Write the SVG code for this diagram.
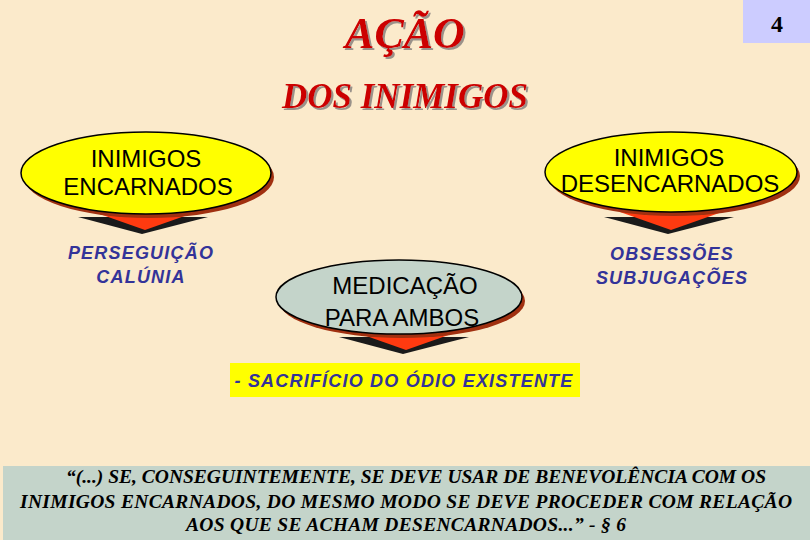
<svg xmlns="http://www.w3.org/2000/svg" width="810" height="540" viewBox="0 0 810 540">
  <style>
    .title { font-family: "Liberation Serif", "Times New Roman", serif; font-weight: bold; font-style: italic; fill: #CC0000; text-anchor: middle; filter: url(#tshadow); }
    .node { font-family: "Liberation Sans", Arial, sans-serif; font-size: 24px; fill: #000000; text-anchor: middle; }
    .blue { font-family: "Liberation Sans", Arial, sans-serif; font-weight: bold; font-style: italic; font-size: 18px; letter-spacing: 1.2px; fill: #333399; text-anchor: middle; }
    .quote { font-family: "Liberation Serif", "Times New Roman", serif; font-weight: bold; font-style: italic; font-size: 19.5px; fill: #000000; }
    .ell { stroke: #000000; stroke-width: 1.5; }
    .shadow { fill: #A03010; }
  </style>
  <defs>
    <filter id="tshadow" x="-10%" y="-20%" width="120%" height="150%">
      <feDropShadow dx="2" dy="2" stdDeviation="0.4" flood-color="#9A928A" flood-opacity="1"/>
    </filter>
    <g id="arrow">
      <polygon points="-64,3 66,3 0,20" fill="#1A1A1A"/>
      <polygon points="-48,-2 54,-2 3,16" fill="#FF3A10"/>
    </g>
  </defs>
  <rect x="0" y="0" width="810" height="540" fill="#FBEACB"/>

  <g id="page-number">
    <rect x="743" y="0" width="67" height="43" fill="#CCCCFF"/>
    <text x="777" y="32" font-family="Liberation Serif, serif" font-weight="bold" font-size="24" text-anchor="middle" fill="#000">4</text>
  </g>

  <g id="title">
    <text class="title" x="405" y="48" font-size="44">AÇÃO</text>
    <text class="title" x="405" y="108" font-size="35">DOS INIMIGOS</text>
  </g>

  <g id="connectors">
    <use href="#arrow" x="142" y="214"/>
    <use href="#arrow" x="668" y="214"/>
    <use href="#arrow" x="403" y="334"/>
  </g>

  <g id="node-encarnados">
    <ellipse class="shadow" cx="149" cy="177" rx="125" ry="41"/>
    <ellipse class="ell" cx="146" cy="173" rx="125" ry="41" fill="#FFFF00"/>
    <text class="node" x="146" y="167">INIMIGOS</text>
    <text class="node" x="148" y="195">ENCARNADOS</text>
  </g>

  <g id="node-desencarnados">
    <ellipse class="shadow" cx="674" cy="176" rx="126" ry="40"/>
    <ellipse class="ell" cx="671" cy="172" rx="126" ry="40" fill="#FFFF00"/>
    <text class="node" x="669" y="166">INIMIGOS</text>
    <text class="node" x="670" y="192">DESENCARNADOS</text>
  </g>

  <g id="node-medicacao">
    <ellipse class="shadow" cx="402" cy="301" rx="123" ry="37"/>
    <ellipse class="ell" cx="399" cy="297" rx="123" ry="37" fill="#C4D4CA"/>
    <text class="node" x="405" y="294">MEDICAÇÃO</text>
    <text class="node" x="402" y="326">PARA AMBOS</text>
  </g>

  <g id="text-perseguicao">
    <text class="blue" x="141" y="259">PERSEGUIÇÃO</text>
    <text class="blue" x="141" y="283">CALÚNIA</text>
  </g>

  <g id="text-obsessoes">
    <text class="blue" x="672" y="260">OBSESSÕES</text>
    <text class="blue" x="672" y="284">SUBJUGAÇÕES</text>
  </g>

  <g id="node-sacrificio">
    <rect x="230" y="363" width="350" height="34" fill="#FFFF00"/>
    <text class="blue" x="404" y="387" font-size="18.5" letter-spacing="1">- SACRIFÍCIO DO ÓDIO EXISTENTE</text>
  </g>

  <g id="quote">
    <rect x="3" y="466" width="807" height="74" fill="#C4D4CA"/>
    <text class="quote" x="66" y="483" textLength="700" lengthAdjust="spacing">“(...) SE, CONSEGUINTEMENTE, SE DEVE USAR DE BENEVOLÊNCIA COM OS</text>
    <text class="quote" x="20" y="508" textLength="772" lengthAdjust="spacing">INIMIGOS ENCARNADOS, DO MESMO MODO SE DEVE PROCEDER COM RELAÇÃO</text>
    <text class="quote" x="186" y="531" textLength="440" lengthAdjust="spacing">AOS QUE SE ACHAM DESENCARNADOS...” - § 6</text>
  </g>
</svg>
